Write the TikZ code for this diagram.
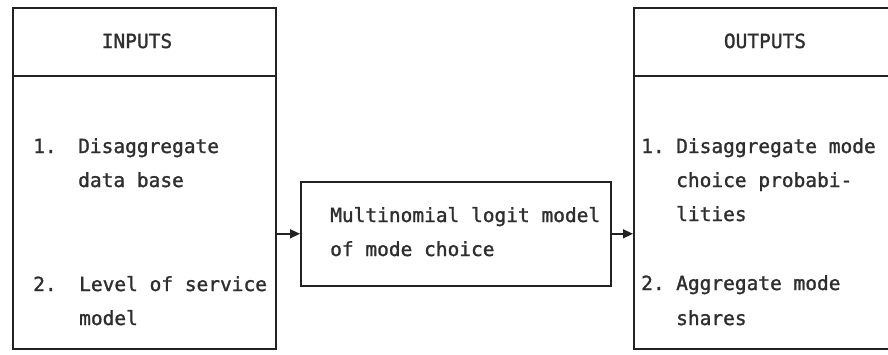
\documentclass[tikz,border=0pt]{standalone}
\usepackage{fontspec}
\setmonofont[FakeBold=1.4]{DejaVu Sans Mono}
\usetikzlibrary{arrows.meta}
\definecolor{ink}{HTML}{222222}
\definecolor{print}{HTML}{2E2E2E}
\begin{document}
\begin{tikzpicture}[x=1pt,y=-1pt,
  panel/.style={draw=ink, line width=1.6pt, rectangle, inner sep=0pt, anchor=north west},
  rule/.style={draw=ink, line width=1.6pt},
  txt/.style={anchor=base west, inner sep=0pt, text=print,
    font=\ttfamily\fontsize{19.5}{23}\selectfont},
  flow/.style={draw=ink, line width=1.4pt, -{Triangle[length=10pt,width=9pt]}}]
\useasboundingbox (0,0) rectangle (888,354);

% the three boxes
\node[panel, minimum width=263pt, minimum height=341pt] (inputs) at (12,7) {};
\node[panel, minimum width=270pt, minimum height=341pt] (outputs) at (633,7) {};
\node[panel, minimum width=310pt, minimum height=104pt] (model) at (300,181) {};

% header dividers
\draw[rule] (inputs.north west |- 0,76) -- (inputs.north east |- 0,76);
\draw[rule] (outputs.north west |- 0,76) -- (outputs.north east |- 0,76);

% headers
\node[txt, anchor=base] (hin) at (137,48) {INPUTS};
\node[txt, anchor=base] (hout) at (765,48) {OUTPUTS};

% input items
\node[txt] (in1n) at (33,153) {1.};
\node[txt] (in1a) at (78,153) {Disaggregate};
\node[txt] (in1b) at (78,187) {data base};
\node[txt] (in2n) at (33,291) {2.};
\node[txt] (in2a) at (79,291) {Level of service};
\node[txt] (in2b) at (79,325) {model};

% model text
\node[txt] (m1) at (330,222) {Multinomial logit model};
\node[txt] (m2) at (330,256) {of mode choice};

% output items
\node[txt] (out1n) at (641,153) {1.};
\node[txt] (out1a) at (676,153) {Disaggregate mode};
\node[txt] (out1b) at (676,187) {choice probabi-};
\node[txt] (out1c) at (676,221) {lities};
\node[txt] (out2n) at (641,290) {2.};
\node[txt] (out2a) at (676,290) {Aggregate mode};
\node[txt] (out2b) at (676,325) {shares};

% connectors
\draw[flow] (model.west -| inputs.east) -- (model.west);
\draw[flow] (model.east) -- (model.east -| outputs.west);
\end{tikzpicture}
\end{document}
